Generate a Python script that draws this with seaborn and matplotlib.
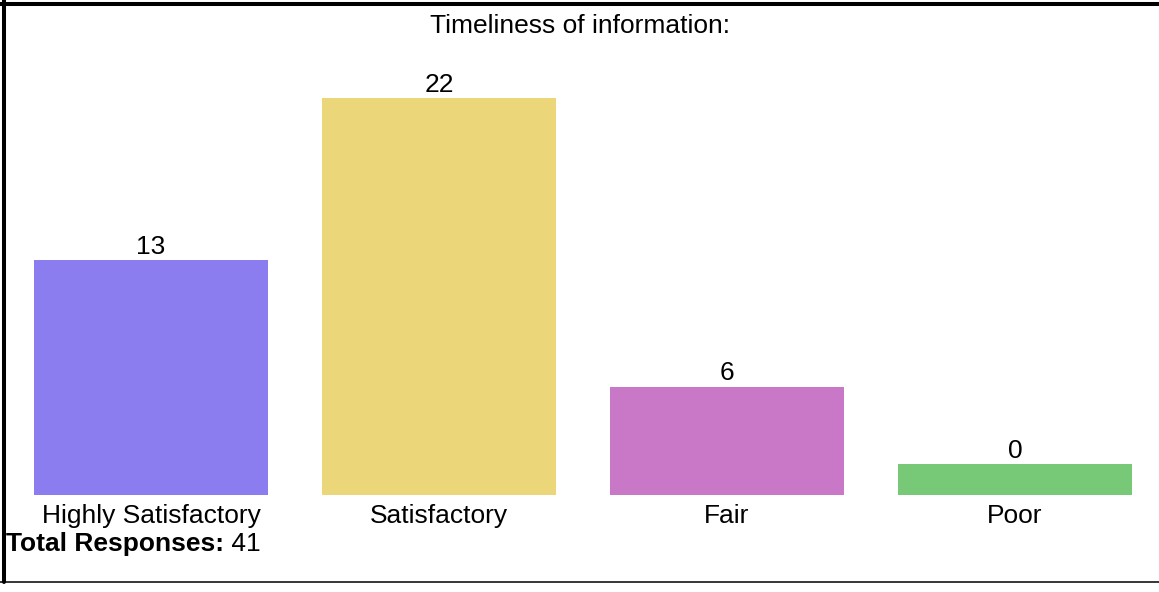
import numpy as np
import pandas as pd
import seaborn as sns
import matplotlib.pyplot as plt
from matplotlib.lines import Line2D

categories = ['Highly Satisfactory', 'Satisfactory', 'Fair', 'Poor']
counts = [13, 22, 6, 0]
colors = ['#8b7cf0', '#ebd77a', '#c978c8', '#77c977']
title = 'Timeliness of information:'
total = 41

sns.set_theme(style='white')
plt.rcParams['font.family'] = ['Liberation Sans', 'DejaVu Sans']
plt.rcParams['text.color'] = 'black'
plt.rcParams['xtick.color'] = 'black'
fs = 19

# the original shows empty categories with a small stub bar
min_bar = 1.7
df = pd.DataFrame({'Category': categories, 'Count': counts})
df['Shown'] = np.maximum(df['Count'], min_bar)

fig = plt.figure(figsize=(11.59, 5.92), dpi=100)
ax = fig.add_axes([7 / 1159, 97 / 592, 1152 / 1159, 435 / 592])

sns.barplot(data=df, x='Category', y='Shown', hue='Category', palette=colors,
            width=0.81, saturation=1, linewidth=0, legend=False, ax=ax)
for cont, c in zip(ax.containers, counts):
    ax.bar_label(cont, labels=[str(c)], padding=1, fontsize=fs, color='black')

ax.set_ylim(0, 24.1)
ax.set_xlim(-0.5, 3.5)
ax.set_xlabel('')
ax.set_ylabel('')
ax.set_yticks([])
ax.tick_params(axis='x', length=0, pad=6.5, labelsize=fs, labelcolor='black')
for s in ax.spines.values():
    s.set_visible(False)

fig.text(0.5, 1 - 33 / 592, title, ha='center', va='baseline', fontsize=fs)
t1 = fig.text(6 / 1159, 1 - 551 / 592, 'Total Responses:', ha='left', va='baseline',
              fontsize=fs, fontweight='bold')
ax.annotate(' ' + str(total), xy=(1, 0), xycoords=t1, ha='left', va='bottom', fontsize=fs)

# frame lines around the picture
fig.add_artist(Line2D([0, 1], [1 - 4 / 592, 1 - 4 / 592], color='black', lw=2.9, transform=fig.transFigure))
fig.add_artist(Line2D([4 / 1159, 4 / 1159], [1 - 582 / 592, 1], color='black', lw=2.9, transform=fig.transFigure))
fig.add_artist(Line2D([0, 1], [1 - 582 / 592, 1 - 582 / 592], color='black', lw=1.1, transform=fig.transFigure))

fig.savefig('out.png', dpi=100)
